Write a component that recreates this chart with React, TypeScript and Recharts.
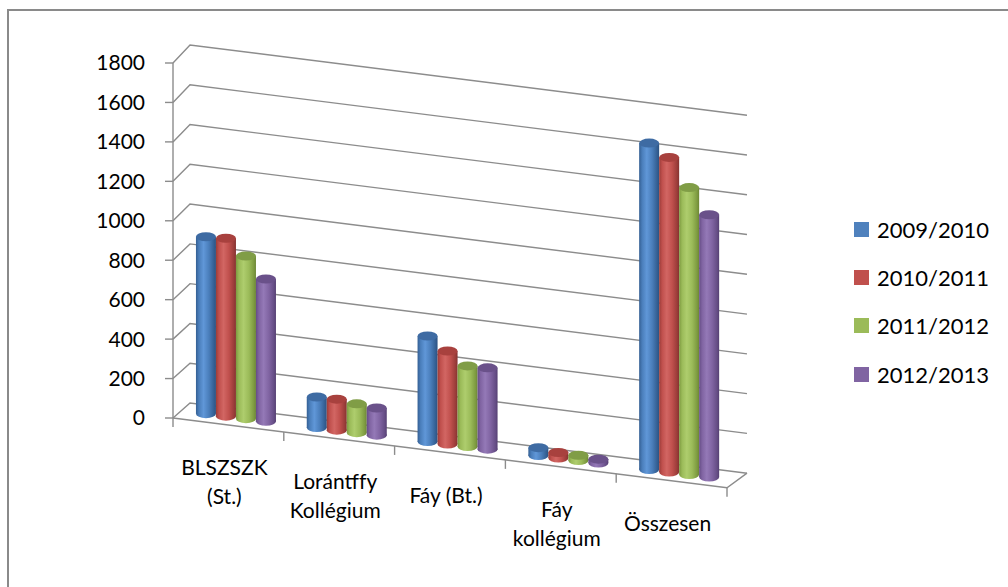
import { Bar, BarChart, CartesianGrid, XAxis, YAxis } from "recharts";

const categories = ["BLSZSZK (St.)", "Lorántffy Kollégium", "Fáy (Bt.)", "Fáy kollégium", "Összesen"];
const seriesNames = ["2009/2010", "2010/2011", "2011/2012", "2012/2013"];
const values2009 = [897, 155, 535, 40, 1655];
const values2010 = [902, 157, 472, 28, 1595];
const values2011 = [825, 146, 409, 27, 1455];
const values2012 = [721, 138, 412, 20, 1330];
const yTicks = [0, 200, 400, 600, 800, 1000, 1200, 1400, 1600, 1800];

const seriesValues = [values2009, values2010, values2011, values2012];
const data = categories.map((name, i) => {
  const row: Record<string, string | number> = { name };
  seriesNames.forEach((s, j) => (row[s] = seriesValues[j][i]));
  return row;
});

// cylinder shading per series
const palette = [
  { base: "#4a7ebb", light: "#6097d8", dark: "#345f93", edge: "#2c5282", cap: "#3e6ba3", legend: "#4f81bd" },
  { base: "#c0504d", light: "#d26663", dark: "#9a3c39", edge: "#843230", cap: "#a8413e", legend: "#c0504d" },
  { base: "#9bbb59", light: "#aecd6d", dark: "#7d9a40", edge: "#6b8535", cap: "#809d46", legend: "#9bbb59" },
  { base: "#8064a2", light: "#9479b7", dark: "#654d85", edge: "#553f72", cap: "#6a518a", legend: "#8064a2" },
];

const W = 1008;
const H = 587;
const PLOT_LEFT = 173;
const PLOT_RIGHT = 727;
const PLOT_TOP = 63;
const PLOT_BOTTOM = 418;
const PLOT_W = PLOT_RIGHT - PLOT_LEFT;
const PLOT_H = PLOT_BOTTOM - PLOT_TOP;
const Y_W = 60;
const X_H = 30;
const SLOPE = 0.126; // floor falls to the right
const RY = 4.5;
const GRID = "#8c8c8c";
const FONT = "Lato, 'Open Sans', sans-serif";

const floorY = (px: number) => PLOT_BOTTOM + SLOPE * (px - PLOT_LEFT);

function gridLine(p: any) {
  const { x1, x2, y1, key } = p;
  const dy = 15 + (3 * (PLOT_BOTTOM - y1)) / PLOT_H;
  const bx1 = x1 + 17;
  const by1 = y1 - dy;
  const bx2 = x2 + 20;
  const by2 = by1 + SLOPE * (bx2 - bx1);
  const isFloor = Math.abs(y1 - PLOT_BOTTOM) < 1;
  return (
    <g key={key}>
      <polyline points={`${x1},${y1} ${bx1},${by1} ${bx2},${by2}`} fill="none" stroke={GRID} strokeWidth={1.4} />
      {isFloor && (
        <polyline
          points={`${x1},${y1} ${x2},${y1 + SLOPE * (x2 - x1)} ${bx2},${by2}`}
          fill="none"
          stroke={GRID}
          strokeWidth={1.4}
        />
      )}
    </g>
  );
}

function wrapLabel(s: string): string[] {
  if (s.length <= 10) return [s];
  const i = s.indexOf(" ");
  return i < 0 ? [s] : [s.slice(0, i), s.slice(i + 1)];
}

function CategoryTick(props: any) {
  const { x, payload, index } = props;
  const band = PLOT_W / categories.length;
  const left = x - band / 2;
  const right = x + band / 2;
  const lines = wrapLabel(payload.value);
  const tx = x - 4;
  return (
    <g>
      <line x1={left} y1={floorY(left)} x2={left} y2={floorY(left) + 9} stroke={GRID} strokeWidth={1.4} />
      {index === categories.length - 1 && (
        <line x1={right} y1={floorY(right)} x2={right} y2={floorY(right) + 9} stroke={GRID} strokeWidth={1.4} />
      )}
      <text x={tx} y={floorY(x) + 50} textAnchor="middle" fill="#000" fontSize={21} fontFamily={FONT}>
        {lines.map((l, i) => (
          <tspan key={i} x={tx} dy={i === 0 ? 0 : 29}>
            {l}
          </tspan>
        ))}
      </text>
    </g>
  );
}

function Cylinder(props: any) {
  const { x, y, width, height, si } = props;
  if (width == null || height == null) return null;
  const xc = x + width / 2;
  const yb = y + height + SLOPE * (xc - PLOT_LEFT) - 7.5;
  const top = yb - height;
  const vx = x + 8;
  const c = palette[si];
  return (
    <g>
      <ellipse cx={vx + width / 2} cy={yb} rx={width / 2} ry={RY} fill={`url(#cyl${si})`} />
      <rect x={vx} y={top} width={width} height={height} fill={`url(#cyl${si})`} />
      <ellipse cx={vx + width / 2} cy={top} rx={width / 2} ry={RY} fill={c.cap} />
    </g>
  );
}

function Legend() {
  return (
    <div style={{ position: "absolute", left: 854, top: 205, fontFamily: FONT, fontSize: 22, color: "#000" }}>
      {seriesNames.map((s, i) => (
        <div key={s} style={{ height: 48.3, display: "flex", alignItems: "center" }}>
          <span style={{ width: 15, height: 15, background: palette[i].legend, marginRight: 8, display: "inline-block" }} />
          <span>{s}</span>
        </div>
      ))}
    </div>
  );
}

export default function App() {
  return (
    <div style={{ position: "relative", width: W, height: H, background: "#fff", fontFamily: FONT }}>
      <style>{"html,body{margin:0;padding:0;overflow:hidden;background:#fff}"}</style>
      <div
        style={{
          position: "absolute",
          left: 7,
          top: 9,
          width: 1020,
          height: 600,
          border: "2px solid #8a8a8a",
          boxSizing: "border-box",
        }}
      />
      <div style={{ position: "absolute", left: 0, top: 0 }}>
        <BarChart
          width={W}
          height={H}
          data={data}
          margin={{ top: PLOT_TOP, right: W - PLOT_RIGHT, bottom: H - PLOT_BOTTOM - X_H, left: PLOT_LEFT - Y_W }}
          barCategoryGap="13.5%"
          barGap={0}
        >
          <defs>
            {palette.map((c, i) => (
              <linearGradient key={i} id={`cyl${i}`} x1="0" y1="0" x2="1" y2="0">
                <stop offset="0%" stopColor={c.dark} />
                <stop offset="15%" stopColor={c.base} />
                <stop offset="38%" stopColor={c.light} />
                <stop offset="65%" stopColor={c.base} />
                <stop offset="90%" stopColor={c.dark} />
                <stop offset="100%" stopColor={c.edge} />
              </linearGradient>
            ))}
          </defs>
          <CartesianGrid vertical={false} horizontal={gridLine} />
          <XAxis dataKey="name" axisLine={false} tickLine={false} interval={0} height={X_H} tick={CategoryTick} />
          <YAxis
            domain={[0, 1800]}
            ticks={yTicks}
            interval={0}
            width={Y_W}
            tickSize={8}
            tickMargin={20}
            axisLine={{ stroke: GRID, strokeWidth: 1.4 }}
            tickLine={{ stroke: GRID, strokeWidth: 1.4 }}
            tick={{ fill: "#000", fontSize: 21, fontFamily: FONT }}
          />
          {seriesNames.map((s, i) => (
            <Bar
              key={s}
              dataKey={s}
              name={s}
              fill={palette[i].legend}
              isAnimationActive={false}
              shape={(p: any) => <Cylinder {...p} si={i} />}
            />
          ))}
        </BarChart>
      </div>
      <Legend />
    </div>
  );
}
